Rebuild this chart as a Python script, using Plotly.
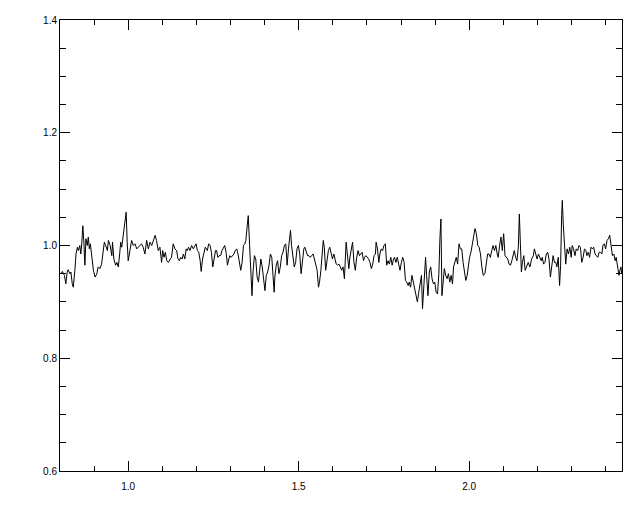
import plotly.graph_objects as go

wavelength = [
    0.803, 0.807, 0.813, 0.817, 0.821, 0.824, 0.829, 0.832, 0.836, 0.839, 0.844, 0.847, 0.851, 0.854, 0.858, 0.861,
    0.864, 0.867, 0.870, 0.873, 0.876, 0.880, 0.883, 0.886, 0.889, 0.893, 0.898, 0.903, 0.908, 0.912, 0.917, 0.922,
    0.926, 0.930, 0.934, 0.939, 0.942, 0.947, 0.952, 0.954, 0.958, 0.963, 0.967, 0.971, 0.975, 0.978, 0.981, 0.985,
    0.988, 0.991, 0.994, 0.997, 1.000, 1.005, 1.010, 1.015, 1.020, 1.025, 1.030, 1.035, 1.039, 1.044, 1.049, 1.054,
    1.059, 1.064, 1.069,
    1.079, 1.083, 1.088, 1.093, 1.098, 1.101, 1.105, 1.109, 1.113, 1.118, 1.123, 1.127, 1.132, 1.137, 1.142, 1.146,
    1.150, 1.154, 1.158, 1.162, 1.166, 1.170, 1.173, 1.177, 1.181, 1.186, 1.191, 1.195, 1.199, 1.203, 1.207, 1.211,
    1.214, 1.218, 1.222, 1.226, 1.232, 1.236, 1.240, 1.244, 1.248, 1.252, 1.256, 1.259, 1.263, 1.267, 1.271, 1.275,
    1.279, 1.283, 1.287, 1.291, 1.295, 1.298, 1.302, 1.306, 1.310, 1.314, 1.318, 1.322, 1.326, 1.330, 1.334, 1.338,
    1.342, 1.345, 1.349, 1.352,
    1.356, 1.360, 1.363, 1.366, 1.370, 1.374, 1.378, 1.382, 1.386, 1.389, 1.393, 1.397, 1.401, 1.405, 1.409, 1.413,
    1.417, 1.421, 1.425, 1.428, 1.430, 1.434, 1.438, 1.442, 1.446, 1.450, 1.454, 1.458, 1.462, 1.466, 1.470, 1.474,
    1.476, 1.479, 1.483, 1.487, 1.491, 1.495, 1.499, 1.503, 1.507, 1.511, 1.515, 1.518, 1.522, 1.526, 1.530, 1.534,
    1.538, 1.542, 1.546, 1.550, 1.554, 1.558, 1.561, 1.565, 1.569, 1.572, 1.575, 1.579, 1.583, 1.587, 1.591, 1.595,
    1.599, 1.603, 1.606, 1.610, 1.614, 1.618, 1.622, 1.626, 1.630, 1.634,
    1.639, 1.643, 1.647, 1.650, 1.654, 1.658, 1.662, 1.666, 1.670, 1.674, 1.678, 1.682, 1.686, 1.690, 1.693, 1.697,
    1.701, 1.705, 1.709, 1.713, 1.717, 1.721, 1.725, 1.727, 1.731, 1.735, 1.738, 1.742, 1.746, 1.750, 1.754, 1.758,
    1.762, 1.766, 1.770, 1.774, 1.778, 1.781, 1.785, 1.789, 1.793, 1.797, 1.801, 1.805, 1.809, 1.813, 1.817, 1.821,
    1.824, 1.828, 1.832, 1.836, 1.840, 1.844, 1.848, 1.852, 1.856, 1.860, 1.863, 1.866, 1.869, 1.872, 1.875, 1.879,
    1.883, 1.887, 1.891, 1.895, 1.899, 1.903, 1.907, 1.911,
    1.914, 1.917, 1.920, 1.923, 1.927, 1.931, 1.935, 1.939, 1.943, 1.947, 1.951, 1.954, 1.958, 1.962, 1.966, 1.970,
    1.974, 1.978, 1.982, 1.986, 1.990, 1.994, 1.997, 2.001, 2.005, 2.009, 2.013, 2.017, 2.021, 2.025, 2.029, 2.033,
    2.037, 2.041, 2.046, 2.050, 2.054, 2.058, 2.062, 2.066, 2.070, 2.074, 2.078, 2.082, 2.085, 2.089, 2.093, 2.097,
    2.101, 2.105, 2.109, 2.113, 2.117, 2.121, 2.125, 2.128, 2.132, 2.136, 2.140, 2.144, 2.147, 2.150, 2.153, 2.156,
    2.160, 2.164,
    2.168, 2.173, 2.178, 2.183, 2.188, 2.191, 2.195, 2.199, 2.203, 2.207, 2.211, 2.214, 2.218, 2.222, 2.226, 2.230,
    2.234, 2.238, 2.242, 2.246, 2.250, 2.254, 2.257, 2.261, 2.265, 2.268, 2.271, 2.273, 2.276, 2.279, 2.283, 2.287,
    2.291, 2.295, 2.299, 2.302, 2.306, 2.310, 2.314, 2.318, 2.322, 2.326, 2.330, 2.334, 2.338, 2.342, 2.345, 2.349,
    2.353, 2.357, 2.361, 2.365, 2.369, 2.373, 2.377, 2.381, 2.385, 2.389, 2.392, 2.396, 2.400, 2.404, 2.408, 2.412,
    2.416, 2.420, 2.424, 2.428, 2.431, 2.435, 2.439, 2.442, 2.445, 2.447,
]

flux = [
    0.950, 0.954, 0.947, 0.932, 0.953, 0.957, 0.950, 0.953, 0.932, 0.926, 0.959, 0.985, 0.997, 0.991, 1.000, 0.985,
    1.006, 1.035, 1.006, 0.965, 1.012, 1.000, 1.015, 0.994, 1.003, 0.976, 0.956, 0.944, 0.950, 0.962, 0.959, 0.967,
    0.985, 1.006, 1.000, 0.991, 1.009, 1.000, 0.982, 1.006, 0.976, 0.965, 0.970, 0.962, 0.985, 1.006, 0.997, 1.015,
    1.024, 1.041, 1.059, 1.006, 0.973, 0.991, 1.009, 1.000, 1.003, 0.994, 0.997, 1.000, 1.003, 0.997, 0.985, 1.009,
    0.994, 1.006, 1.000,
    1.018, 1.009, 0.991, 0.997, 0.970, 0.991, 0.979, 0.988, 0.973, 0.970, 0.976, 0.979, 1.003, 0.994, 0.991, 0.976,
    0.973, 0.979, 0.976, 0.985, 0.976, 0.994, 0.991, 0.997, 0.991, 1.000, 0.994, 1.000, 1.003, 0.991, 0.988, 0.973,
    0.954, 0.976, 0.988, 0.997, 0.991, 1.003, 1.000, 0.988, 0.962, 0.979, 0.991, 0.991, 0.979, 0.982, 0.982, 0.991,
    0.997, 1.000, 0.988, 0.965, 0.976, 0.982, 0.979, 0.982, 0.985, 0.991, 0.994, 0.985, 0.967, 0.956, 0.970, 1.000,
    1.003, 1.009, 1.035, 1.053,
    1.000, 0.935, 0.911, 0.953, 0.982, 0.976, 0.944, 0.935, 0.956, 0.976, 0.962, 0.938, 0.920, 0.947, 0.953, 0.965,
    0.985, 0.979, 0.935, 0.917, 0.944, 0.965, 0.973, 0.950, 0.962, 0.982, 0.988, 1.000, 1.003, 0.965, 0.994, 1.018,
    1.027, 1.000, 0.976, 0.962, 0.970, 0.994, 1.000, 0.985, 0.950, 0.970, 0.994, 0.997, 0.988, 0.982, 0.982, 0.979,
    0.982, 0.985, 0.976, 0.967, 0.956, 0.926, 0.935, 0.956, 0.988, 1.009, 0.997, 0.956, 0.973, 0.991, 0.997, 0.985,
    0.976, 0.985, 0.979, 0.967, 0.965, 0.967, 0.962, 0.956, 0.962, 0.941,
    1.006, 0.979, 0.959, 0.979, 0.991, 1.006, 0.970, 0.956, 0.979, 0.991, 0.982, 0.985, 0.988, 0.973, 0.979, 0.982,
    0.979, 0.976, 0.970, 0.959, 0.967, 0.982, 0.985, 1.006, 0.994, 0.970, 0.985, 0.994, 0.991, 1.000, 1.003, 0.965,
    0.973, 0.967, 0.979, 0.965, 0.976, 0.979, 0.970, 0.979, 0.967, 0.956, 0.970, 0.979, 0.970, 0.938, 0.935, 0.929,
    0.935, 0.926, 0.947, 0.935, 0.920, 0.911, 0.900, 0.917, 0.935, 0.947, 0.888, 0.917, 0.953, 0.979, 0.947, 0.911,
    0.953, 0.962, 0.941, 0.932, 0.935, 0.917, 0.914, 0.950,
    1.012, 1.047, 0.911, 0.935, 0.959, 0.947, 0.941, 0.950, 0.935, 0.947, 0.932, 0.962, 0.973, 0.979, 0.967, 1.003,
    0.994, 0.994, 0.970, 0.950, 0.938, 0.947, 0.965, 0.979, 0.988, 1.003, 1.018, 1.030, 1.021, 1.000, 0.997, 0.985,
    0.962, 0.947, 0.950, 0.973, 0.985, 0.985, 0.979, 0.991, 1.000, 0.991, 1.000, 0.985, 0.979, 1.000, 1.015, 0.991,
    1.021, 0.982, 0.979, 0.976, 0.967, 0.965, 0.973, 0.979, 0.991, 0.979, 0.973, 0.997, 1.056, 1.003, 0.953, 0.970,
    0.982, 0.956,
    0.962, 0.970, 0.962, 0.976, 0.982, 0.994, 0.985, 0.976, 0.985, 0.979, 0.973, 0.979, 0.967, 0.970, 0.985, 0.988,
    0.976, 0.944, 0.965, 0.982, 0.970, 0.970, 0.962, 0.979, 0.929, 0.965, 1.053, 1.080, 1.035, 1.006, 0.967, 0.994,
    0.985, 0.997, 0.979, 1.000, 0.994, 0.982, 0.994, 0.991, 1.000, 0.997, 0.970, 0.979, 0.994, 0.991, 0.982, 0.988,
    0.979, 0.997, 0.994, 0.997, 0.985, 0.982, 0.979, 0.988, 0.988, 0.985, 1.000, 1.003, 0.994, 1.009, 1.012, 1.018,
    1.000, 0.982, 0.985, 0.973, 0.979, 0.965, 0.947, 0.956, 0.962, 0.950,
]

x_tickvals = [1.0, 1.5, 2.0]
x_ticktext = ["1.0", "1.5", "2.0"]
y_tickvals = [0.6, 0.8, 1.0, 1.2, 1.4]
y_ticktext = ["0.6", "0.8", "1.0", "1.2", "1.4"]

fig = go.Figure()
fig.add_trace(go.Scatter(x=wavelength, y=flux, mode="lines",
                         line=dict(color="black", width=1), showlegend=False))

axis_common = dict(
    showline=True, linecolor="black", linewidth=1, mirror="ticks",
    ticks="inside", tickcolor="black", tickwidth=1, ticklen=10,
    showgrid=False, zeroline=False, automargin=False,
    tickfont=dict(family="Liberation Sans, Arial, sans-serif", size=10, color="black"),
)

fig.update_xaxes(range=[0.8, 2.448], tickvals=x_tickvals, ticktext=x_ticktext,
                 minor=dict(dtick=0.1, tick0=0.8, ticks="inside", ticklen=5, tickcolor="black", showgrid=False),
                 ticklabelstandoff=6, **axis_common)
fig.update_yaxes(range=[0.6, 1.4], tickvals=y_tickvals, ticktext=y_ticktext,
                 minor=dict(dtick=0.05, tick0=0.6, ticks="inside", ticklen=6, tickcolor="black", showgrid=False),
                 **axis_common)

# the page body adds an 8px offset, so margins are reduced on the top/left
fig.update_layout(
    width=640, height=512,
    margin=dict(l=52, r=26, t=12, b=49),
    paper_bgcolor="white", plot_bgcolor="white",
)

fig.write_html("out.html")
